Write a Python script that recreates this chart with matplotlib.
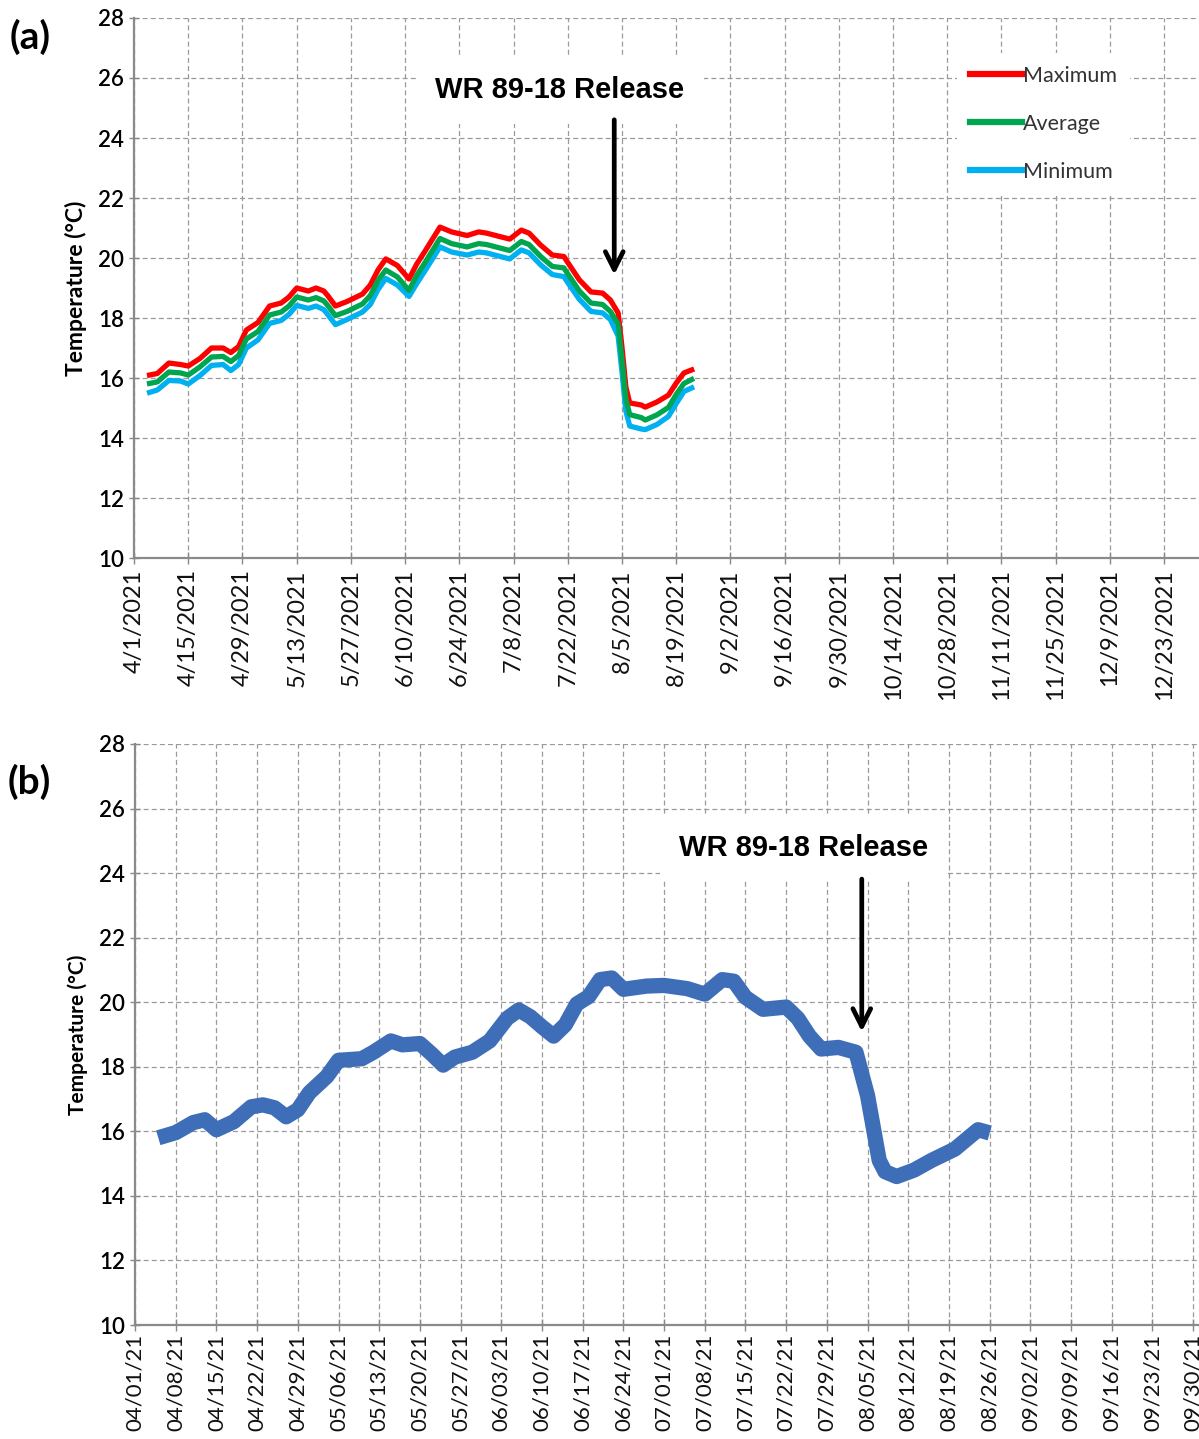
import pandas as pd
import matplotlib
matplotlib.use("Agg")
import matplotlib.pyplot as plt
import matplotlib.dates as mdates

# ===============================
# Data
# ===============================
top_dates = ['2021-04-05', '2021-04-07', '2021-04-10', '2021-04-13', '2021-04-15',
             '2021-04-18', '2021-04-21', '2021-04-24', '2021-04-26', '2021-04-28',
             '2021-04-30', '2021-05-03', '2021-05-06', '2021-05-09', '2021-05-11',
             '2021-05-13', '2021-05-16', '2021-05-18', '2021-05-20', '2021-05-21',
             '2021-05-23', '2021-05-26', '2021-05-30', '2021-06-01', '2021-06-03',
             '2021-06-05', '2021-06-08', '2021-06-11', '2021-06-13', '2021-06-15',
             '2021-06-19', '2021-06-22', '2021-06-26', '2021-06-29', '2021-07-01',
             '2021-07-04', '2021-07-07', '2021-07-10', '2021-07-12', '2021-07-15',
             '2021-07-18', '2021-07-21', '2021-07-22', '2021-07-25', '2021-07-28',
             '2021-07-31', '2021-08-02', '2021-08-04', '2021-08-05', '2021-08-06',
             '2021-08-07', '2021-08-10', '2021-08-11', '2021-08-14', '2021-08-17',
             '2021-08-19', '2021-08-21', '2021-08-23']

t_max = [16.10, 16.15, 16.50, 16.45, 16.40, 16.65, 17.00, 17.00, 16.85, 17.05,
         17.60, 17.85, 18.40, 18.50, 18.70, 19.00, 18.90, 19.00, 18.90, 18.75,
         18.40, 18.55, 18.80, 19.10, 19.60, 19.97, 19.75, 19.30, 19.80, 20.20,
         21.03, 20.87, 20.75, 20.87, 20.83, 20.73, 20.63, 20.93, 20.83, 20.43,
         20.10, 20.05, 19.85, 19.27, 18.87, 18.83, 18.60, 18.17, 17.03, 15.70,
         15.17, 15.10, 15.03, 15.20, 15.43, 15.83, 16.17, 16.27]

t_avg = [15.82, 15.87, 16.20, 16.17, 16.10, 16.37, 16.70, 16.72, 16.55, 16.75,
         17.30, 17.55, 18.10, 18.20, 18.40, 18.70, 18.60, 18.68, 18.57, 18.42,
         18.08, 18.22, 18.47, 18.75, 19.25, 19.60, 19.37, 18.92, 19.42, 19.82,
         20.65, 20.48, 20.37, 20.48, 20.45, 20.35, 20.25, 20.55, 20.45, 20.05,
         19.72, 19.67, 19.47, 18.90, 18.50, 18.45, 18.22, 17.80, 16.60, 15.30,
         14.78, 14.68, 14.60, 14.77, 15.02, 15.45, 15.82, 15.95]

t_min = [15.52, 15.60, 15.92, 15.90, 15.80, 16.08, 16.42, 16.45, 16.25, 16.45,
         17.00, 17.27, 17.82, 17.92, 18.12, 18.42, 18.32, 18.40, 18.28, 18.12,
         17.78, 17.95, 18.20, 18.45, 18.95, 19.32, 19.10, 18.72, 19.15, 19.55,
         20.37, 20.20, 20.10, 20.20, 20.17, 20.07, 19.97, 20.27, 20.17, 19.77,
         19.45, 19.38, 19.18, 18.62, 18.22, 18.17, 17.95, 17.40, 16.20, 14.90,
         14.40, 14.30, 14.28, 14.45, 14.72, 15.15, 15.55, 15.67]

bot_dates = ['2021-04-05', '2021-04-08', '2021-04-11', '2021-04-13', '2021-04-15',
             '2021-04-18', '2021-04-21', '2021-04-23', '2021-04-25', '2021-04-27',
             '2021-04-29', '2021-05-01', '2021-05-04', '2021-05-06', '2021-05-10',
             '2021-05-12', '2021-05-15', '2021-05-17', '2021-05-20', '2021-05-22',
             '2021-05-24', '2021-05-26', '2021-05-29', '2021-06-01', '2021-06-04',
             '2021-06-06', '2021-06-08', '2021-06-10', '2021-06-12', '2021-06-14',
             '2021-06-16', '2021-06-18', '2021-06-20', '2021-06-22', '2021-06-24',
             '2021-06-28', '2021-07-01', '2021-07-05', '2021-07-08', '2021-07-11',
             '2021-07-13', '2021-07-15', '2021-07-18', '2021-07-22', '2021-07-24',
             '2021-07-26', '2021-07-28', '2021-07-31', '2021-08-03', '2021-08-05',
             '2021-08-07', '2021-08-08', '2021-08-10', '2021-08-13', '2021-08-16',
             '2021-08-20', '2021-08-22', '2021-08-24', '2021-08-26']

t_hourly = [15.80, 15.96, 16.27, 16.36, 16.05, 16.30, 16.76, 16.82, 16.73, 16.45,
            16.67, 17.20, 17.70, 18.20, 18.25, 18.45, 18.80, 18.68, 18.72, 18.40,
            18.05, 18.30, 18.45, 18.80, 19.50, 19.76, 19.55, 19.24, 18.95, 19.30,
            19.95, 20.17, 20.70, 20.75, 20.40, 20.50, 20.52, 20.42, 20.25, 20.70,
            20.65, 20.15, 19.78, 19.85, 19.50, 18.95, 18.55, 18.60, 18.45, 17.10,
            15.10, 14.75, 14.60, 14.80, 15.10, 15.45, 15.75, 16.05, 15.95]

top_ticks = ['4/1/2021', '4/15/2021', '4/29/2021', '5/13/2021', '5/27/2021',
             '6/10/2021', '6/24/2021', '7/8/2021', '7/22/2021', '8/5/2021',
             '8/19/2021', '9/2/2021', '9/16/2021', '9/30/2021', '10/14/2021',
             '10/28/2021', '11/11/2021', '11/25/2021', '12/9/2021', '12/23/2021']

bot_ticks = ['04/01/21', '04/08/21', '04/15/21', '04/22/21', '04/29/21',
             '05/06/21', '05/13/21', '05/20/21', '05/27/21', '06/03/21',
             '06/10/21', '06/17/21', '06/24/21', '07/01/21', '07/08/21',
             '07/15/21', '07/22/21', '07/29/21', '08/05/21', '08/12/21',
             '08/19/21', '08/26/21', '09/02/21', '09/09/21', '09/16/21',
             '09/23/21', '09/30/21']

release_label = 'WR 89-18 Release'

# ===============================
# Figure
# ===============================
plt.rcParams['font.family'] = ['Lato', 'DejaVu Sans']

fig = plt.figure(figsize=(11.99, 14.39), dpi=100)
ax1 = fig.add_axes([0.1118, 0.6122, 0.8882, 0.3753])
ax2 = fig.add_axes([0.1126, 0.0792, 0.8874, 0.4038])


def style_axis(ax, ticks, fmt, xlim, ylabel_size, xsize, xpad):
    pos = pd.to_datetime(ticks, format=fmt)
    ax.set_xticks(mdates.date2num(pos))
    ax.set_xticklabels(ticks, rotation=90, fontsize=xsize, color='#111111')
    ax.set_xlim(pd.to_datetime(xlim[0]), pd.to_datetime(xlim[1]))
    ax.set_ylim(10, 28)
    ax.set_yticks(range(10, 29, 2))
    for lab in ax.get_yticklabels():
        lab.set_fontweight('semibold')
    ax.tick_params(axis='y', labelsize=16, direction='inout', length=7,
                   color='#888888', width=1)
    ax.tick_params(axis='x', direction='inout', length=8, color='#888888',
                   width=1, pad=xpad)
    ax.grid(True, color='#9a9a9a', linestyle=(0, (4, 2.5)), linewidth=0.9)
    ax.set_axisbelow(True)
    for s in ['top', 'right']:
        ax.spines[s].set_visible(False)
    for s in ['left', 'bottom']:
        ax.spines[s].set_color('#8a8a8a')
        ax.spines[s].set_linewidth(1.6)
    ax.set_ylabel('Temperature (°C)', fontsize=ylabel_size, fontweight='bold',
                  labelpad=8)


# ---- (a) ----
d_top = pd.to_datetime(top_dates)
ax1.plot(d_top, t_max, color='#FF0000', lw=3.8, label='Maximum', zorder=3)
ax1.plot(d_top, t_avg, color='#00A550', lw=3.8, label='Average', zorder=4)
ax1.plot(d_top, t_min, color='#00B0F0', lw=3.8, label='Minimum', zorder=2)
style_axis(ax1, top_ticks, '%m/%d/%Y', ('2021-04-01', '2022-01-01'), 16.5, 17, 4)

leg = ax1.legend(loc='upper right', bbox_to_anchor=(0.945, 0.955), fontsize=15.5,
                 frameon=True, handlelength=2.4, handletextpad=0.05,
                 labelspacing=1.3, borderpad=0.6)
leg.get_frame().set_edgecolor('none')
leg.get_frame().set_facecolor('white')
leg.get_frame().set_alpha(1)
for t in leg.get_texts():
    t.set_color('#333333')
for h in leg.get_lines():
    h.set_linewidth(4.5)

ax1.text(pd.to_datetime('2021-07-20'), 25.6, release_label, ha='center',
         va='center', fontsize=21, fontweight='bold', family='Liberation Sans',
         bbox=dict(facecolor='white', edgecolor='none', pad=14), zorder=5)
ax1.annotate('', xy=(pd.to_datetime('2021-08-03'), 19.35),
             xytext=(pd.to_datetime('2021-08-03'), 24.7),
             arrowprops=dict(arrowstyle='->', lw=3.4, color='black',
                             mutation_scale=32), zorder=6)
fig.text(0.008, 0.966, '(a)', fontsize=28, fontweight='bold')

# ---- (b) ----
d_bot = pd.to_datetime(bot_dates)
ax2.plot(d_bot, t_hourly, color='#3F6EB8', lw=11, solid_joinstyle='round',
         solid_capstyle='butt', zorder=3)
style_axis(ax2, bot_ticks, '%m/%d/%y', ('2021-04-01', '2021-10-01'), 15, 16, 2)

ax2.text(pd.to_datetime('2021-07-25'), 24.78, release_label, ha='center',
         va='center', fontsize=21, fontweight='bold', family='Liberation Sans',
         bbox=dict(facecolor='white', edgecolor='none', pad=14), zorder=5)
ax2.annotate('', xy=(pd.to_datetime('2021-08-04'), 19.0),
             xytext=(pd.to_datetime('2021-08-04'), 23.9),
             arrowprops=dict(arrowstyle='->', lw=3.4, color='black',
                             mutation_scale=32), zorder=6)
fig.text(0.006, 0.448, '(b)', fontsize=28, fontweight='bold')

fig.savefig('out.png', dpi=100)
